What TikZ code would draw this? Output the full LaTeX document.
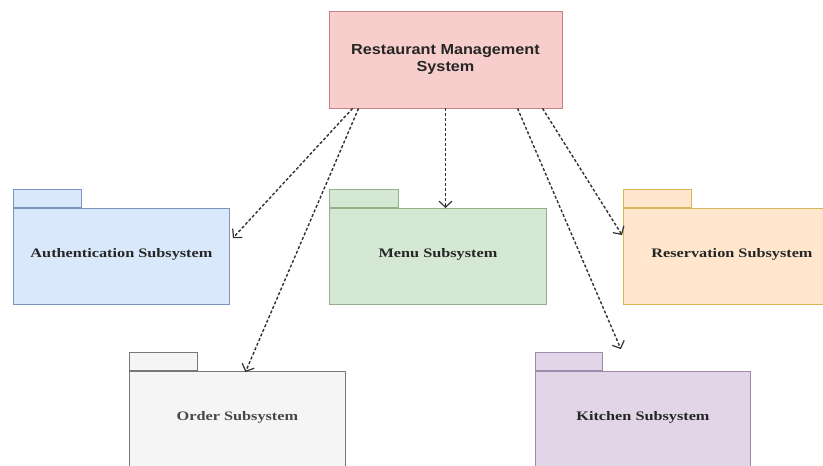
\documentclass[tikz,border=0pt]{standalone}
\usepackage{fontspec}
\setmainfont{Liberation Serif}
\newfontfamily\rootfont[FakeStretch=1.12]{Liberation Sans}
\newfontfamily\pkgfont[FakeStretch=1.25]{Liberation Serif}
\usetikzlibrary{arrows.meta,calc}
\definecolor{rootfill}{HTML}{F8CECC}\definecolor{rootline}{HTML}{C88080}
\definecolor{bluefill}{HTML}{DAE8FC}\definecolor{blueline}{HTML}{7C95BF}
\definecolor{greenfill}{HTML}{D5E8D4}\definecolor{greenline}{HTML}{94B088}
\definecolor{orangefill}{HTML}{FFE6CC}\definecolor{orangeline}{HTML}{D6B656}
\definecolor{grayfill}{HTML}{F5F5F5}\definecolor{grayline}{HTML}{777777}
\definecolor{purplefill}{HTML}{E1D5E7}\definecolor{purpleline}{HTML}{A08AAE}
\tikzset{
  rootbox/.style={draw=rootline, fill=rootfill, line width=0.9pt, minimum width=233pt, minimum height=97pt,
    inner sep=0pt, align=center, font=\rootfont\bfseries\fontsize{14.5}{17.5}\selectfont, text=black!85},
  pkgbody/.style={line width=0.9pt, minimum width=216pt, minimum height=96pt, inner sep=0pt,
    font=\pkgfont\bfseries\fontsize{13}{15}\selectfont, text=black!85, anchor=north west},
  pkgtab/.style={line width=0.9pt, minimum width=68pt, minimum height=18pt, inner sep=0pt, anchor=south west},
  dep/.style={draw=black!80, line width=1.4pt, dash pattern=on 3pt off 2pt,
    -{Straight Barb[length=6pt,width=13pt,line width=1.2pt]}},
}
\begin{document}
\begin{tikzpicture}[x=1pt,y=-1pt]
\clip (0,0) rectangle (823,466);
\fill[white] (0,0) rectangle (823,466);
% root
\node[rootbox] (root) at (445.5,59.5) {Restaurant Management\\System};
% authentication
\node[pkgbody, draw=blueline, fill=bluefill] (auth) at (13,208) {\raisebox{6pt}{Authentication Subsystem}};
\node[pkgtab, draw=blueline, fill=bluefill] (authtab) at (auth.north west) {};
% menu
\node[pkgbody, draw=greenline, fill=greenfill, minimum width=217pt] (menu) at (329,208) {\raisebox{6pt}{Menu Subsystem}};
\node[pkgtab, draw=greenline, fill=greenfill, minimum width=69pt] (menutab) at (menu.north west) {};
% reservation
\node[pkgbody, draw=orangeline, fill=orangefill, minimum width=217pt] (res) at (623,208) {\raisebox{6pt}{Reservation Subsystem}};
\node[pkgtab, draw=orangeline, fill=orangefill] (restab) at (res.north west) {};
% order
\node[pkgbody, draw=grayline, fill=grayfill, text=black!72] (order) at (129,371) {\raisebox{6pt}{Order Subsystem}};
\node[pkgtab, draw=grayline, fill=grayfill] (ordertab) at (order.north west) {};
% kitchen
\node[pkgbody, draw=purpleline, fill=purplefill, minimum width=215pt] (kitchen) at (535,371) {\raisebox{6pt}{Kitchen Subsystem}};
\node[pkgtab, draw=purpleline, fill=purplefill, minimum width=67pt] (kitchentab) at (kitchen.north west) {};
% dependencies
\draw[dep] ($(root.south west)+(24,0)$) -- ($(auth.north east)+(3,30)$);
\draw[dep] ($(root.south west)+(30,0)$) -- ($(order.north)+(8,1)$);
\draw[dep] (root.south) -- (root.south |- menu.north);
\draw[dep] ($(root.south west)+(189,0)$) -- ($(kitchentab.north east)+(18,-3)$);
\draw[dep] ($(root.south west)+(214,0)$) -- ($(res.north west)+(-1,27)$);
\end{tikzpicture}
\end{document}
